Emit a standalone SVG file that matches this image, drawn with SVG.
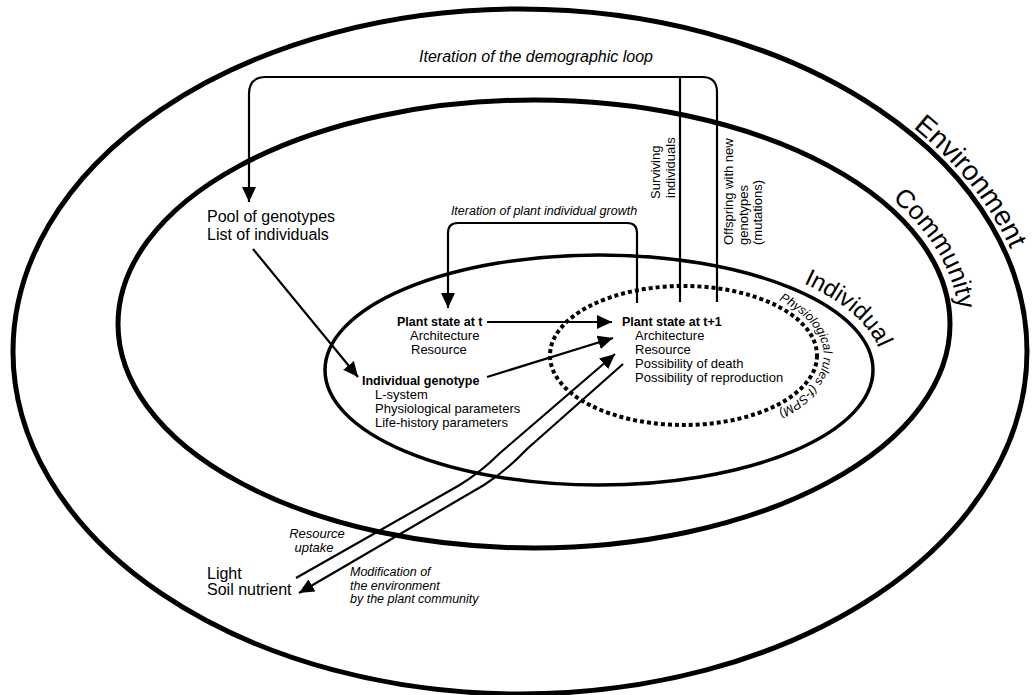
<svg xmlns="http://www.w3.org/2000/svg" width="1033" height="695" viewBox="0 0 1033 695">
<style>
text{font-family:"Liberation Sans",Arial,sans-serif;fill:#000}
.it{font-style:italic}
.b{font-weight:bold}
.ring{fill:none;stroke:#000}
.con{fill:none;stroke:#000;stroke-width:2.2}
.lab{font-size:16px}
.in{font-size:13px}
.inb{font-size:12.5px;font-weight:bold}
</style>
<defs>
<marker id="ah" markerUnits="userSpaceOnUse" markerWidth="16" markerHeight="14" refX="15" refY="7" orient="auto"><path d="M0,0 L15,7 L0,14 Z" fill="#000"/></marker>
<path id="pEnv" d="M913,127.5 A513,348.5 0 0,1 1032.7,339.3"/>
<path id="pCom" d="M892,199 A425,233 0 0,1 952.5,364.5"/>
<path id="pInd" d="M803.3,283.2 A284,125 0 0,1 878.7,391.7"/>
<path id="pFsp" d="M779,300 A139.5,75.5 0 0,1 731.2,426.4"/>
</defs>
<rect width="1033" height="695" fill="#fff"/>

<g id="environment">
<ellipse class="ring" cx="520" cy="351.5" rx="507" ry="342.5" stroke-width="5"/>
<text font-size="28"><textPath href="#pEnv">Environment</textPath></text>
</g>
<g id="community">
<ellipse class="ring" cx="534" cy="324" rx="416" ry="224" stroke-width="5"/>
<text font-size="26"><textPath href="#pCom">Community</textPath></text>
</g>
<g id="individual">
<ellipse class="ring" cx="599" cy="370" rx="274" ry="115" stroke-width="3.5"/>
<text font-size="24"><textPath href="#pInd">Individual</textPath></text>
</g>
<g id="fspm">
<ellipse class="ring" cx="683.5" cy="355.5" rx="133.5" ry="69.5" stroke-width="4" stroke-dasharray="4 3"/>
<text class="it" font-size="12.5"><textPath href="#pFsp">Physiological rules (f-SPM)</textPath></text>
</g>

<g id="connectors">
<path class="con" d="M717,302 V92 Q717,77 702,77 H266 Q249,77 249,94 V202" marker-end="url(#ah)"/>
<path class="con" d="M680,77 V302"/>
<path class="con" d="M637,303 V233 Q637,223 627,223 H458 Q448,223 448,233 V308" marker-end="url(#ah)" stroke-width="2.5"/>
<path class="con" d="M253,249 L358,377" marker-end="url(#ah)" stroke-width="2.5"/>
<path class="con" d="M487,322 L612,322" marker-end="url(#ah)" stroke-width="2.8"/>
<path class="con" d="M487,377 L613,338" marker-end="url(#ah)" stroke-width="2.8"/>
<path class="con" d="M296,578 L458,486 Q480,473 500,453 L615,354" marker-end="url(#ah)"/>
<path class="con" d="M623,364 L527,449 Q506,471 484,485 L299,593" marker-end="url(#ah)"/>
</g>

<g id="demographic-loop-label">
<text class="it" x="536" y="62" font-size="16" text-anchor="middle">Iteration of the demographic loop</text>
</g>
<g id="growth-loop-label">
<text class="it" x="544" y="215" font-size="12.5" text-anchor="middle">Iteration of plant individual growth</text>
</g>
<g id="surviving">
<text class="in" transform="translate(660,199) rotate(-90)">Surviving</text>
<text class="in" transform="translate(675,198) rotate(-90)">individuals</text>
</g>
<g id="offspring">
<text class="in" transform="translate(733,245) rotate(-90)">Offspring with new</text>
<text class="in" transform="translate(747.5,245) rotate(-90)">genotypes</text>
<text class="in" transform="translate(762,245) rotate(-90)">(mutations)</text>
</g>
<g id="pool">
<text class="lab" x="207" y="222">Pool of genotypes</text>
<text class="lab" x="207" y="240">List of individuals</text>
</g>
<g id="plant-state-t">
<text class="inb" x="397" y="326">Plant state at t</text>
<text class="in" x="410" y="340">Architecture</text>
<text class="in" x="411" y="354">Resource</text>
</g>
<g id="individual-genotype">
<text class="inb" x="362" y="385">Individual genotype</text>
<text class="in" x="375" y="399">L-system</text>
<text class="in" x="375" y="413">Physiological parameters</text>
<text class="in" x="375" y="427">Life-history parameters</text>
</g>
<g id="plant-state-t1">
<text class="inb" x="622" y="326">Plant state at t+1</text>
<text class="in" x="635" y="340">Architecture</text>
<text class="in" x="635" y="354">Resource</text>
<text class="in" x="635" y="368">Possibility of death</text>
<text class="in" x="635" y="382">Possibility of reproduction</text>
</g>
<g id="resources">
<text class="lab" x="207" y="579">Light</text>
<text class="lab" x="207" y="595">Soil nutrient</text>
</g>
<g id="uptake-label">
<text class="it" x="317" y="538" font-size="13" text-anchor="middle">Resource</text>
<text class="it" x="314" y="552" font-size="13" text-anchor="middle">uptake</text>
</g>
<g id="modification-label">
<text class="it" x="350" y="576" font-size="12.5">Modification of</text>
<text class="it" x="350" y="589.5" font-size="12.5">the environment</text>
<text class="it" x="350" y="603" font-size="12.5">by the plant community</text>
</g>
</svg>
